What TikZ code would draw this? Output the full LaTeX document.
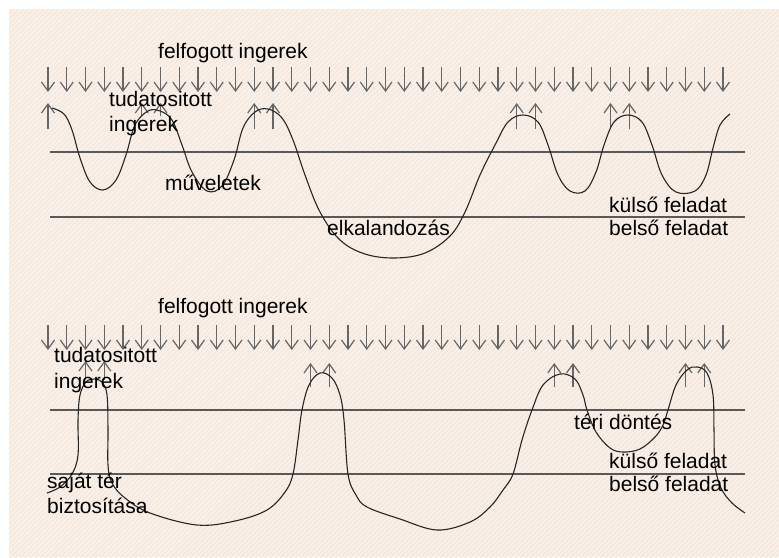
\documentclass[tikz,border=0pt]{standalone}
\usepackage{fontspec}
\setmainfont{Liberation Sans}
\usetikzlibrary{arrows.meta}
\definecolor{paper}{HTML}{FAF2EA}
\definecolor{stripe}{HTML}{F3E7DC}

\begin{document}
\begin{tikzpicture}[x=1pt, y=-1pt,
    lbl/.style={anchor=base west, inner sep=0pt, font=\fontsize{21}{25}\selectfont},
    inarr/.style={-{Straight Barb[length=9pt,width=13pt]}, line width=1.2pt, black!60},
    level/.style={line width=1.3pt, black!65},
    wave/.style={line width=1.1pt, black!85}
]
\useasboundingbox (0,0) rectangle (779,557);
\fill[paper] (9,9) rectangle (779,557);
\begin{scope}
  \clip (9,9) rectangle (779,557);
  \foreach \k in {9,14,...,1345}
    \draw[stripe, line width=1.4pt] (\k,9) -- (\k-557,566);
\end{scope}

% upper panel
\foreach \i in {0,...,36}
  \draw[inarr] ({48+18.75*\i},67) -- ({48+18.75*\i},92);
\foreach \i in {0,11,12,25,26,30,31}
  \draw[inarr] ({48+18.75*\i},129) -- ({48+18.75*\i},103);
\foreach \i in {5,6}
  \draw[inarr] ({48+18.75*\i},116) -- ({48+18.75*\i},103);
\draw[level] (50,152) -- (745,152);
\draw[level] (50,217) -- (745,217);
\draw[wave] plot[smooth, tension=0.6] coordinates {
  (52,108) (64,114) (72,130) (80,158) (90,182) (103,190) (116,180) (126,155)
  (135,125) (148,111) (160,111) (172,120) (182,145) (192,172) (207,191)
  (222,186) (234,160) (243,128) (255,112) (268,109) (282,118) (293,140)
  (305,175) (320,212) (340,240) (365,254) (395,258) (425,253) (450,236)
  (465,212) (480,175) (495,145) (508,122) (523,115) (538,122) (548,145)
  (558,175) (570,191) (585,191) (596,172) (604,145) (614,122) (628,115)
  (642,122) (652,145) (662,175) (676,192) (695,191) (706,175) (713,148)
  (720,125) (730,114)};
\node[lbl] (felfog1) at (158,58) {felfogott ingerek};
\node[lbl] (tudat1) at (109,106) {tudatositott};
\node[lbl] (inger1) at (109,131) {ingerek};
\node[lbl] (muvel) at (165,190) {műveletek};
\node[lbl] (elkal) at (327,235) {elkalandozás};
\node[lbl] (kulso1) at (609,212) {külső feladat};
\node[lbl] (belso1) at (609,235) {belső feladat};

% lower panel
\foreach \i in {0,...,36}
  \draw[inarr] ({48+18.75*\i},325) -- ({48+18.75*\i},350);
\foreach \i in {2,3}
  \draw[inarr] ({48+18.75*\i},380) -- ({48+18.75*\i},361);
\foreach \i in {14,15,27,28,34,35}
  \draw[inarr] ({48+18.75*\i},387) -- ({48+18.75*\i},363);
\draw[level] (50,410) -- (745,410);
\draw[level] (50,474) -- (745,474);
\draw[wave] plot[smooth, tension=0.6] coordinates {
  (47,493) (60,487) (72,474) (78,455) (78,420) (80,395) (86,382) (94,379)
  (102,382) (107,395) (108,430) (108,465) (112,483) (125,498) (150,513)
  (197,525) (235,521) (267,510) (285,492) (293,474) (298,440) (302,410)
  (309,385) (320,373) (332,378) (340,395) (344,420) (348,474) (356,495)
  (367,507) (400,519) (437,530) (470,522) (490,507) (503,490) (513,474)
  (522,440) (532,410) (543,385) (560,374) (575,379) (583,395) (587,410)
  (596,432) (610,448) (623,452) (640,449) (655,437) (663,425) (668,410)
  (676,385) (687,370) (697,367) (707,373) (713,395) (714,430) (715,465)
  (721,488) (732,503) (745,513)};
\node[lbl] (felfog2) at (158,313) {felfogott ingerek};
\node[lbl] (tudat2) at (54,362) {tudatositott};
\node[lbl] (inger2) at (54,388) {ingerek};
\node[lbl] (sajat) at (47,488) {saját tér};
\node[lbl] (bizt) at (47,513) {biztosítása};
\node[lbl] (terid) at (574,429) {téri döntés};
\node[lbl] (kulso2) at (609,468) {külső feladat};
\node[lbl] (belso2) at (609,491) {belső feladat};
\end{tikzpicture}
\end{document}
